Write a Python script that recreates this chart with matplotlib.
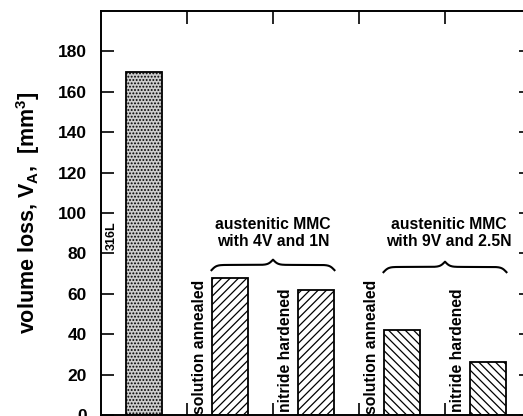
import matplotlib
matplotlib.use('Agg')
import matplotlib.pyplot as plt
import numpy as np

plt.rcParams['font.family'] = ['Liberation Sans', 'DejaVu Sans']
plt.rcParams['mathtext.fontset'] = 'custom'
plt.rcParams['mathtext.rm'] = 'Liberation Sans:bold'
plt.rcParams['mathtext.it'] = 'Liberation Sans:bold'
plt.rcParams['mathtext.bf'] = 'Liberation Sans:bold'
plt.rcParams['hatch.linewidth'] = 0.9

# data
materials = ['316L', 'solution annealed', 'nitride hardened',
             'solution annealed', 'nitride hardened']
volume_loss = [170, 68, 62, 42, 26]
hatches = ['.....', '////', '////', '\\\\\\\\', '\\\\\\\\']
faces = ['#cccccc', 'white', 'white', 'white', 'white']
groups = ['austenitic MMC\nwith 4V and 1N', 'austenitic MMC\nwith 9V and 2.5N']
group_bars = [(1, 2), (3, 4)]
yticks = [0, 20, 40, 60, 80, 100, 120, 140, 160, 180]
xticks = [0.5, 1.5, 2.5, 3.5]


def draw_brace(ax, x0, x1, y, h=2.6, beta=35.0):
    # curly brace from x0 to x1, cusp pointing up at the middle
    n = 201
    x = np.linspace(x0, x1, n)
    half = x[:n // 2 + 1]
    yh = 1 / (1 + np.exp(-beta * (half - half[0]))) + 1 / (1 + np.exp(-beta * (half - half[-1])))
    yy = np.concatenate((yh, yh[-2::-1]))
    ax.plot(x, y + (yy - 1) * 2 * h, color='black', lw=1.5, clip_on=False)


fig = plt.figure(figsize=(5.23, 4.16), dpi=100)
ax = fig.add_axes([101 / 523, 1 / 416, 430 / 523, 404 / 416])

pos = np.arange(len(volume_loss))
width = 0.43
for i in range(len(volume_loss)):
    ax.bar(pos[i], volume_loss[i], width, color=faces[i], edgecolor='black',
           linewidth=1.3, hatch=hatches[i], zorder=2)

# bar labels, rotated, to the left of each bar
ax.text(pos[0] - 0.37, 89, materials[0], rotation=90, ha='center', va='center',
        fontsize=9, fontweight='bold')
for i in range(1, len(materials)):
    top = 67 if materials[i] == 'solution annealed' else 62.5
    ax.text(pos[i] - 0.35, top, materials[i], rotation=90, ha='center', va='top',
            fontsize=11.3, fontweight='bold')

# group labels with braces
group_x = [1.5, 3.55]
brace_y = [74.3, 73.3]
for g, (a, b) in enumerate(group_bars):
    draw_brace(ax, pos[a] - width / 2, pos[b] + width / 2, brace_y[g])
    ax.text(group_x[g], 90, groups[g], ha='center', va='center', fontsize=11.3,
            fontweight='bold', linespacing=1.15)

ax.set_xlim(-0.5, 4.5)
ax.set_ylim(0, 200)
ax.set_yticks(yticks)
ax.set_xticks(xticks)
ax.tick_params(direction='in', length=9, width=1.2, top=True, right=True,
               labelbottom=False, labelsize=12.5, pad=10)
for lbl in ax.get_yticklabels():
    lbl.set_fontweight('bold')
for s in ax.spines.values():
    s.set_linewidth(1.4)

fig.text(28 / 523, 1 - 212.5 / 416, r'volume loss, V$_\mathrm{A}$,  [mm$^3$]',
         rotation=90, ha='center', va='center', fontsize=15.5, fontweight='bold')

fig.savefig('out.png', dpi=100)
